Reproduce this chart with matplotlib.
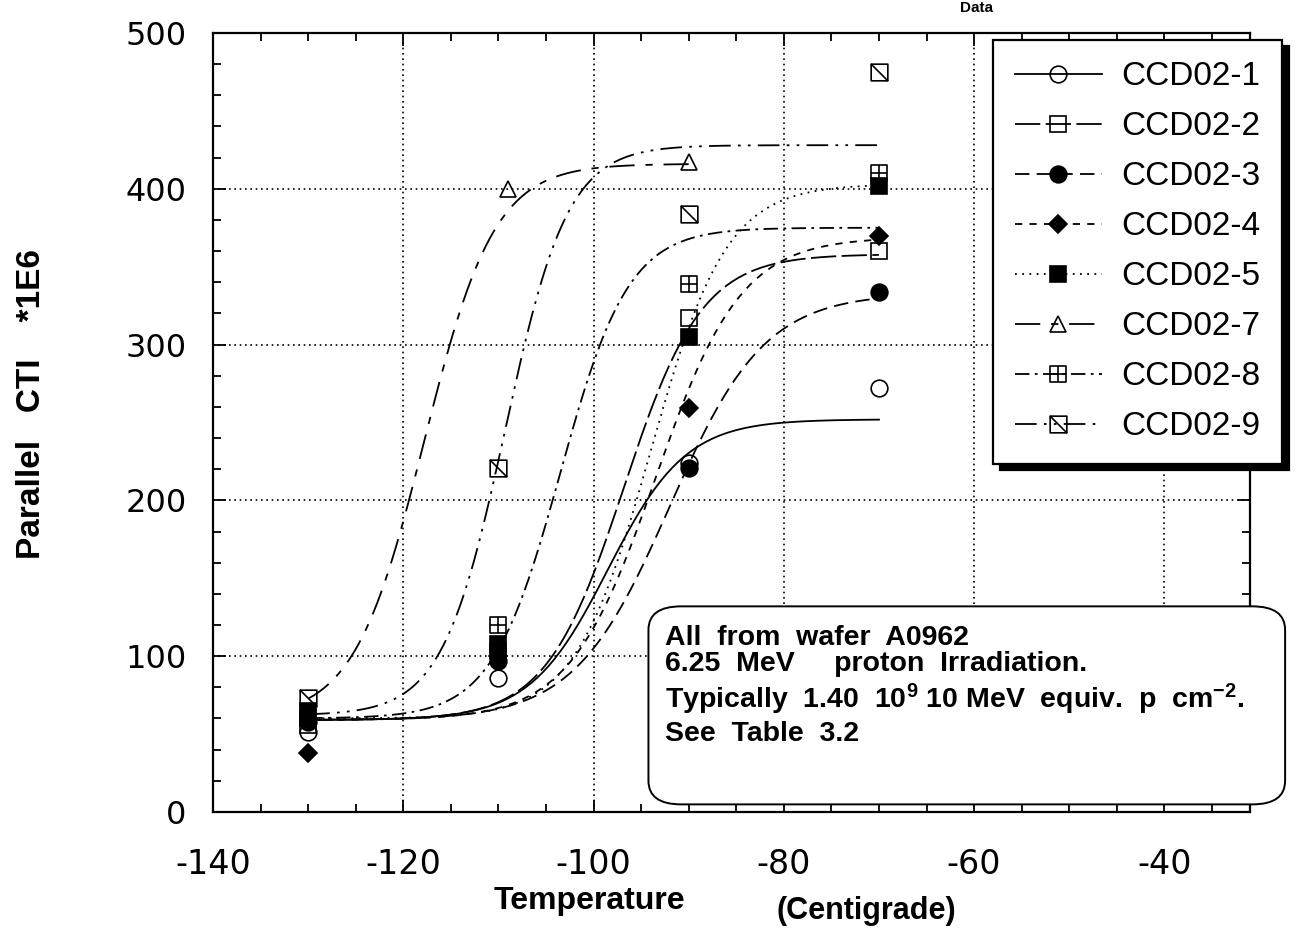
import numpy as np
import matplotlib
matplotlib.use("Agg")
import matplotlib.pyplot as plt
from matplotlib.path import Path
from matplotlib.lines import Line2D
from matplotlib.patches import FancyBboxPatch
from matplotlib.ticker import MultipleLocator

plt.rcParams['axes.unicode_minus'] = False
plt.rcParams['mathtext.fontset'] = 'custom'
plt.rcParams['mathtext.bf'] = 'Liberation Sans:bold'
plt.rcParams['mathtext.rm'] = 'Liberation Sans'
plt.rcParams['mathtext.default'] = 'bf'

# measured points: temperature (C) vs parallel CTI * 1E6
temps = [-130, -110, -90, -70]
temps_7 = [-130, -109, -90]

ccd02_1 = [51, 86, 224, 272]
ccd02_2 = [56, 103, 317, 360]
ccd02_3 = [58, 97, 221, 334]
ccd02_4 = [38, 100, 259, 370]
ccd02_5 = [65, 108, 305, 402]
ccd02_7 = [60, 400, 417]
ccd02_8 = [60, 120, 339, 410]
ccd02_9 = [73, 221, 384, 475]

labels = ["CCD02-1", "CCD02-2", "CCD02-3", "CCD02-4",
          "CCD02-5", "CCD02-7", "CCD02-8", "CCD02-9"]

# sigmoid fit curves, parameters
fit_low = [59, 59, 59, 59, 60, 60, 60, 62]
fit_high = [252, 358, 333, 369, 403, 416, 375, 428]
fit_centre = [-98.5, -96.8, -92.0, -93.5, -94.0, -117.8, -103.5, -109.3]
fit_width = [4.1, 4.1, 5.0, 4.5, 4.0, 3.7, 3.6, 3.3]
fit_end = [-70, -70, -70, -70, -70, -90, -70, -70]

note_lines = ["All  from  wafer  A0962",
              "6.25  MeV     proton  Irradiation.",
              "Typically  1.40  10$^{9}$ 10 MeV  equiv.  p  cm$^{-2}$.",
              "See  Table  3.2"]


def boltzmann(t, low, high, centre, width):
    return high + (low - high) / (1 + np.exp((t - centre) / width))


M, L, C = Path.MOVETO, Path.LINETO, Path.CLOSEPOLY
box_plus = Path([(-1, -1), (1, -1), (1, 1), (-1, 1), (-1, -1),
                 (0, -1), (0, 1), (-1, 0), (1, 0)],
                [M, L, L, L, C, M, L, M, L])
box_diag = Path([(-1, -1), (1, -1), (1, 1), (-1, 1), (-1, -1),
                 (-1, 1), (1, -1)],
                [M, L, L, L, C, M, L])

markers = ['o', 's', 'o', 'D', 's', '^', box_plus, box_diag]
msizes = [12, 12, 12, 9, 12, 12, 12, 12]
filled = [False, False, True, True, True, False, False, False]
dashes = [None, (14, 3), (8, 4), (4, 4), (1, 3),
          (14, 6, 4, 6), (8, 3, 1.5, 3), (12, 4, 1.5, 4, 1.5, 4)]

series = [ccd02_1, ccd02_2, ccd02_3, ccd02_4, ccd02_5, ccd02_7, ccd02_8, ccd02_9]
xs = [temps, temps, temps, temps, temps, temps_7, temps, temps]

fig = plt.figure(figsize=(13.1, 9.43), dpi=100)
ax = fig.add_axes([0.1626, 0.139, 0.7916, 0.826])

handles = []
for i in range(len(series)):
    t = np.linspace(-130, fit_end[i], 200)
    y = boltzmann(t, fit_low[i], fit_high[i], fit_centre[i], fit_width[i])
    line_kw = dict(color='black', lw=1.3)
    if dashes[i] is not None:
        line_kw['dashes'] = dashes[i]
    ax.plot(t, y, zorder=2, **line_kw)

    mk_kw = dict(marker=markers[i], ms=msizes[i], mec='black', mew=1.2,
                 mfc='black' if filled[i] else 'none')
    ax.plot(xs[i], series[i], ls='none', zorder=3, **mk_kw)
    handles.append(Line2D([], [], **line_kw, **mk_kw))

ax.set_xlim(-140, -31)
ax.set_ylim(0, 500)
ax.set_xticks(np.arange(-140, -30, 20))
ax.set_yticks(np.arange(0, 501, 100))
ax.xaxis.set_minor_locator(MultipleLocator(5))
ax.yaxis.set_minor_locator(MultipleLocator(20))
ax.tick_params(which='both', direction='in', top=True, right=True, width=1.3)
ax.tick_params(which='major', length=9, labelsize=23)
ax.tick_params(which='minor', length=6)
ax.tick_params(axis='x', pad=26, labelsize=24)
ax.tick_params(axis='y', pad=19)
ax.grid(True, which='major', color='black', ls=(0, (1, 2.2)), lw=1.2)
for s in ax.spines.values():
    s.set_linewidth(1.6)

# legend with solid black drop shadow
leg = fig.legend(handles, labels, loc='upper right', bbox_to_anchor=(0.979, 0.958),
                 borderaxespad=0,
                 prop={'family': 'Liberation Sans', 'size': 24},
                 handlelength=2.6, handletextpad=0.6, labelspacing=0.57,
                 borderpad=0.65, fancybox=False, framealpha=1,
                 shadow={'ox': 4.5, 'oy': -4.5, 'color': 'black', 'alpha': 1})
leg.get_frame().set_edgecolor('black')
leg.get_frame().set_linewidth(1.6)

# rounded note box
box = FancyBboxPatch((0.495, 0.147), 0.486, 0.21, transform=fig.transFigure,
                     boxstyle='round,pad=0,rounding_size=0.025',
                     facecolor='white', edgecolor='black', lw=1.4, zorder=5)
fig.patches.append(box)
note_y = [0.316, 0.288, 0.249, 0.214]
for txt, yy in zip(note_lines, note_y):
    fig.text(0.508, yy, txt, fontsize=20.5, fontweight='bold', family='Liberation Sans',
             va='baseline', ha='left', zorder=6)

fig.text(0.024, 0.572, "Parallel   CTI    *1E6", rotation=90, ha='center', va='center',
         fontsize=24, fontweight='bold', family=['Liberation Sans Narrow', 'Liberation Sans'])
fig.text(0.450, 0.045, "Temperature", ha='center', va='center',
         fontsize=23, fontweight='bold', family='Liberation Sans')
fig.text(0.661, 0.034, "(Centigrade)", ha='center', va='center',
         fontsize=22, fontweight='bold', family='Liberation Sans')
# title mostly cut off at the top edge of the scan
fig.text(0.758, 0.999, "Data", ha='right', va='top', fontsize=11,
         fontweight='bold', family='Liberation Sans')

fig.savefig("out.png", dpi=100)
